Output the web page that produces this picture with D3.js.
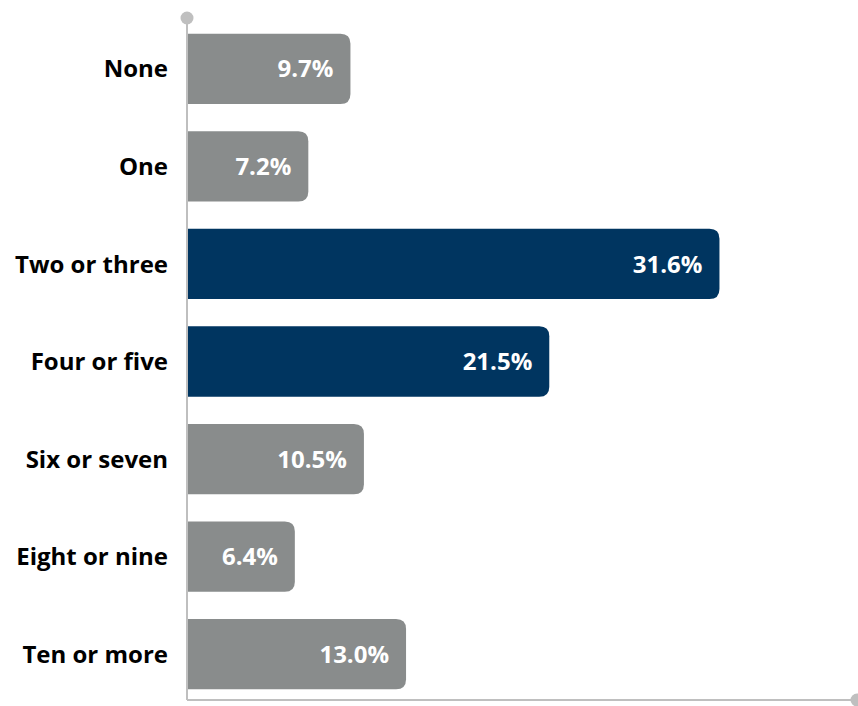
<!DOCTYPE html>
<html><head><meta charset="utf-8">
<script src="https://cdn.jsdelivr.net/npm/d3@7"></script>
<style>body{margin:0;background:#fff}svg{display:block}</style>
</head><body>
<svg id="c" width="858" height="706"></svg>
<script>
const categories = ["None","One","Two or three","Four or five","Six or seven","Eight or nine","Ten or more"];
const values = [9.7, 7.2, 31.6, 21.5, 10.5, 6.4, 13.0];
const highlighted = ["Two or three","Four or five"];

const svg = d3.select("#c");
const x0 = 187;
const x = d3.scaleLinear().domain([0, 40]).range([x0, x0 + 674]);
const y = d3.scaleBand().domain(categories).range([20, 703]).paddingInner(0.28).paddingOuter(0.14);
const font = "'Open Sans', sans-serif";

// axes lines
svg.append("line").attr("x1", x0).attr("x2", x0).attr("y1", 18).attr("y2", 700)
  .attr("stroke", "#bfbfbf").attr("stroke-width", 2);
svg.append("line").attr("x1", x0).attr("x2", 856).attr("y1", 700).attr("y2", 700)
  .attr("stroke", "#bfbfbf").attr("stroke-width", 2);
svg.append("circle").attr("cx", x0).attr("cy", 18).attr("r", 6.5).attr("fill", "#bfbfbf");
svg.append("circle").attr("cx", 857).attr("cy", 700).attr("r", 6.5).attr("fill", "#bfbfbf");

const r = 10;
function barPath(x1, y1, w, h) {
  return `M${x1},${y1} H${x1 + w - r} Q${x1 + w},${y1} ${x1 + w},${y1 + r} V${y1 + h - r} Q${x1 + w},${y1 + h} ${x1 + w - r},${y1 + h} H${x1} Z`;
}

const rows = categories.map((c, i) => ({c, v: values[i]}));
svg.selectAll("path.bar").data(rows).join("path").attr("class", "bar")
  .attr("d", d => barPath(x(0) + 1, y(d.c), x(d.v) - x(0) - 1, y.bandwidth()))
  .attr("fill", d => highlighted.includes(d.c) ? "#003560" : "#898c8c");

svg.selectAll("text.val").data(rows).join("text").attr("class", "val")
  .attr("x", d => x(d.v) - 17).attr("y", d => y(d.c) + y.bandwidth() / 2)
  .attr("dy", "0.36em").attr("text-anchor", "end")
  .attr("font-family", font).attr("font-weight", 700).attr("font-size", 24)
  .attr("fill", "#fff").text(d => d.v.toFixed(1) + "%");

svg.selectAll("text.cat").data(rows).join("text").attr("class", "cat")
  .attr("x", 168).attr("y", d => y(d.c) + y.bandwidth() / 2)
  .attr("dy", "0.36em").attr("text-anchor", "end")
  .attr("font-family", font).attr("font-weight", 700).attr("font-size", 24)
  .attr("fill", "#000").text(d => d.c);
</script>
</body></html>
